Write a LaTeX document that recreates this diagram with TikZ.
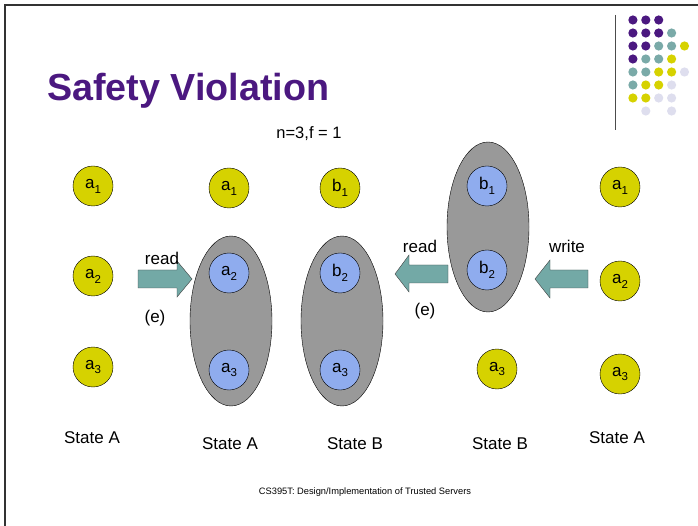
\documentclass[tikz,border=0pt]{standalone}
\usepackage{fontspec}
\setmainfont{Liberation Sans}
\usetikzlibrary{positioning, shapes.geometric}
\definecolor{slidepurple}{RGB}{75,24,128}
\definecolor{dotteal}{RGB}{122,170,168}
\definecolor{dotyellow}{RGB}{214,210,0}
\definecolor{dotlilac}{RGB}{222,222,238}
\definecolor{procyellow}{RGB}{214,210,0}
\definecolor{procblue}{RGB}{143,172,238}
\definecolor{groupgray}{RGB}{153,153,153}
\definecolor{arrowteal}{RGB}{115,169,166}
\newcommand{\sv}[2]{#1\raisebox{-0.55ex}{\fontsize{11.5}{12}\selectfont #2}}

\begin{document}
\begin{tikzpicture}[x=1pt,y=-1pt]
  \useasboundingbox (0,0) rectangle (698,526);

  % Setup the styles
  \tikzset{proc/.style={circle, draw, thin, minimum size=40pt, inner sep=0pt,
                        font=\fontsize{17}{17}\selectfont},
           good/.style={proc, fill=procyellow},
           bad/.style={proc, fill=procblue},
           quorum/.style={ellipse, draw, thin, fill=groupgray, inner sep=0pt,
                          minimum width=82pt, minimum height=170pt},
           fatarrow/.style={draw=black!75, thin, fill=arrowteal},
           lbl/.style={font=\fontsize{17}{17}\selectfont, inner sep=0pt}}

  % Slide frame and logo
  \draw[black!80, line width=1.3pt] (5,526) -- (5,5) -- (698,5);
  \draw[black!70, line width=1pt] (615,15) -- (615,130);
  \foreach \r/\c/\col in {1/1/slidepurple,1/2/slidepurple,1/3/slidepurple,
                          2/1/slidepurple,2/2/slidepurple,2/3/slidepurple,2/4/dotteal,
                          3/1/slidepurple,3/2/slidepurple,3/3/dotteal,3/4/dotteal,3/5/dotyellow,
                          4/1/slidepurple,4/2/dotteal,4/3/dotteal,4/4/dotyellow,
                          5/1/dotteal,5/2/dotteal,5/3/dotyellow,5/4/dotyellow,5/5/dotlilac,
                          6/1/dotteal,6/2/dotyellow,6/3/dotyellow,6/4/dotlilac,
                          7/1/dotyellow,7/2/dotyellow,7/3/dotlilac,7/4/dotlilac,
                          8/2/dotlilac,8/4/dotlilac}
    \fill[\col] (620+12.9*\c, 7+13*\r) circle (4.6);

  % Title
  \node[anchor=base west, inner sep=0pt, text=slidepurple,
        font=\fontsize{37.7}{40}\selectfont\bfseries] (title) at (47,101) {Safety Violation};
  \node[lbl, font=\fontsize{16.5}{17}\selectfont] (params) at (309,134) {n=3,f = 1};

  % Draw the quorums
  \node[quorum] (qa) at (231,321) {};
  \node[quorum] (qb) at (342,321) {};
  \node[quorum] (qc) at (488,227) {};

  % Draw the servers
  \node[good] at (93,186)  (sa1) {\sv{a}{1}};
  \node[good] at (93,276)  (sa2) {\sv{a}{2}};
  \node[good] at (93,367)  (sa3) {\sv{a}{3}};

  \node[good] at (229,188) (sb1) {\sv{a}{1}};
  \node[bad]  at (229,273) (sb2) {\sv{a}{2}};
  \node[bad]  at (229,370) (sb3) {\sv{a}{3}};

  \node[good] at (340,188) (sc1) {\sv{b}{1}};
  \node[bad]  at (340,273) (sc2) {\sv{b}{2}};
  \node[bad]  at (340,370) (sc3) {\sv{a}{3}};

  \node[bad]  at (487,186) (sd1) {\sv{b}{1}};
  \node[bad]  at (487,270) (sd2) {\sv{b}{2}};
  \node[good] at (497,369) (sd3) {\sv{a}{3}};

  \node[good] at (620,187) (se1) {\sv{a}{1}};
  \node[good] at (620,281) (se2) {\sv{a}{2}};
  \node[good] at (620,374) (se3) {\sv{a}{3}};

  % Block arrows
  \draw[fatarrow] (138,270) -- (177,270) -- (177,261) -- (192,279)
                  -- (177,297) -- (177,288) -- (138,288) -- cycle;
  \draw[fatarrow] (448,265) -- (409,265) -- (409,255) -- (395,274)
                  -- (409,292) -- (409,283) -- (448,283) -- cycle;
  \draw[fatarrow] (588,270) -- (550,270) -- (550,260) -- (535,279)
                  -- (550,298) -- (550,288) -- (588,288) -- cycle;

  % Arrow labels
  \node[lbl] (read1)  at (162,258) {read};
  \node[lbl] (e1)     at (155,318) {(e)};
  \node[lbl] (read2)  at (420,246) {read};
  \node[lbl] (e2)     at (425,311) {(e)};
  \node[lbl] (write1) at (567,246) {write};

  % State captions
  \node[lbl] (cap1) at (92,438)  {State A};
  \node[lbl] (cap2) at (230,444) {State A};
  \node[lbl] (cap3) at (355,444) {State B};
  \node[lbl] (cap4) at (500,444) {State B};
  \node[lbl] (cap5) at (617,438) {State A};

  % Footer
  \node[inner sep=0pt, font=\fontsize{9.3}{10}\selectfont] (footer) at (365,492)
       {CS395T: Design/Implementation of Trusted Servers};
\end{tikzpicture}
\end{document}
